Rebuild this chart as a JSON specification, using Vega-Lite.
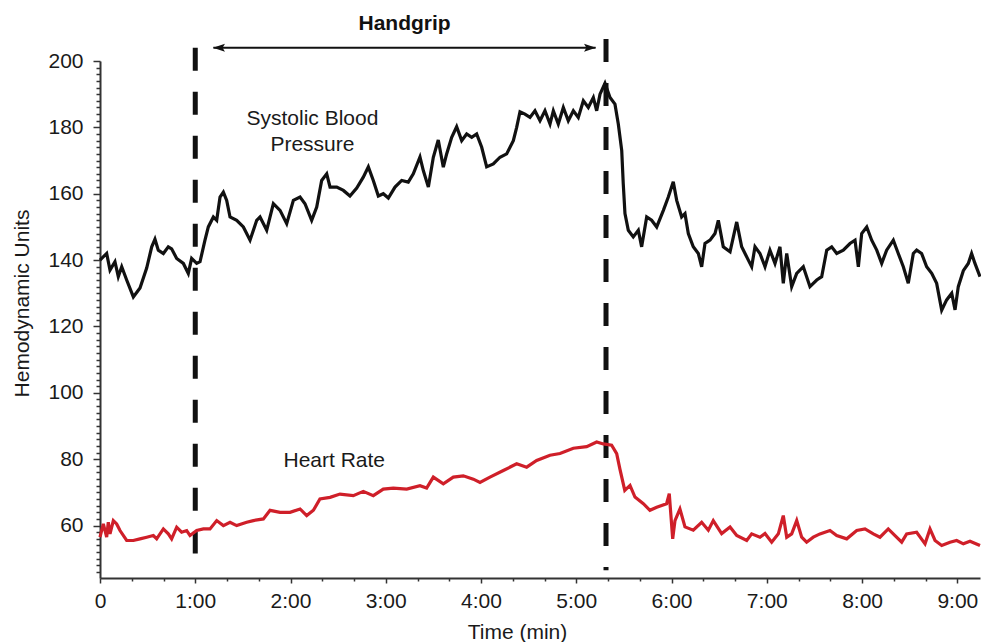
{
  "$schema": "https://vega.github.io/schema/vega-lite/v6.json",
  "width": 880,
  "height": 517,
  "autosize": {"type": "none"},
  "padding": {"left": 100, "top": 61, "right": 1, "bottom": 64},
  "background": "white",
  "config": {
    "view": {"stroke": null},
    "font": "Liberation Sans",
    "axis": {
      "grid": false,
      "domainColor": "#333333",
      "domainWidth": 2,
      "tickColor": "#333333",
      "tickWidth": 1.5,
      "labelFont": "Liberation Sans",
      "labelFontSize": 21,
      "labelColor": "#1a1a1a",
      "labelOverlap": false,
      "labelFlush": false,
      "titleFont": "Liberation Sans",
      "titleFontSize": 21,
      "titleFontWeight": "normal",
      "titleColor": "#1a1a1a"
    }
  },
  "datasets": {
    "sbp": [
      {"t": 0.000, "v": 140}, {"t": 0.070, "v": 142}, {"t": 0.105, "v": 137}, {"t": 0.157, "v": 139.5},
      {"t": 0.192, "v": 135}, {"t": 0.228, "v": 138}, {"t": 0.280, "v": 134}, {"t": 0.350, "v": 128.9},
      {"t": 0.420, "v": 131.6}, {"t": 0.490, "v": 137.6}, {"t": 0.543, "v": 144}, {"t": 0.577, "v": 146.3},
      {"t": 0.612, "v": 143}, {"t": 0.665, "v": 142}, {"t": 0.717, "v": 144}, {"t": 0.752, "v": 143.4},
      {"t": 0.805, "v": 140.5}, {"t": 0.875, "v": 139}, {"t": 0.927, "v": 136}, {"t": 0.962, "v": 140.5},
      {"t": 1.015, "v": 139}, {"t": 1.050, "v": 139.5}, {"t": 1.102, "v": 146}, {"t": 1.137, "v": 150},
      {"t": 1.190, "v": 153}, {"t": 1.225, "v": 152}, {"t": 1.260, "v": 159}, {"t": 1.295, "v": 160.5},
      {"t": 1.330, "v": 158}, {"t": 1.365, "v": 153}, {"t": 1.435, "v": 152}, {"t": 1.505, "v": 150},
      {"t": 1.575, "v": 146}, {"t": 1.645, "v": 152}, {"t": 1.680, "v": 153}, {"t": 1.750, "v": 149},
      {"t": 1.820, "v": 157}, {"t": 1.890, "v": 155}, {"t": 1.960, "v": 151}, {"t": 2.030, "v": 158},
      {"t": 2.100, "v": 159}, {"t": 2.152, "v": 157}, {"t": 2.222, "v": 152}, {"t": 2.275, "v": 156},
      {"t": 2.327, "v": 164}, {"t": 2.380, "v": 166}, {"t": 2.415, "v": 162}, {"t": 2.485, "v": 162},
      {"t": 2.555, "v": 161}, {"t": 2.624, "v": 159.3}, {"t": 2.695, "v": 161.7}, {"t": 2.764, "v": 165},
      {"t": 2.817, "v": 168.1}, {"t": 2.869, "v": 164}, {"t": 2.922, "v": 159.3}, {"t": 2.974, "v": 160},
      {"t": 3.027, "v": 158.7}, {"t": 3.097, "v": 162}, {"t": 3.167, "v": 164}, {"t": 3.236, "v": 163.5},
      {"t": 3.289, "v": 166}, {"t": 3.359, "v": 171.1}, {"t": 3.394, "v": 167}, {"t": 3.447, "v": 162},
      {"t": 3.499, "v": 171}, {"t": 3.551, "v": 176.2}, {"t": 3.604, "v": 168}, {"t": 3.639, "v": 172},
      {"t": 3.692, "v": 177}, {"t": 3.744, "v": 180.2}, {"t": 3.797, "v": 176}, {"t": 3.849, "v": 178},
      {"t": 3.902, "v": 177}, {"t": 3.954, "v": 178}, {"t": 4.007, "v": 174}, {"t": 4.059, "v": 168.1},
      {"t": 4.129, "v": 169}, {"t": 4.199, "v": 171}, {"t": 4.269, "v": 172}, {"t": 4.339, "v": 176},
      {"t": 4.374, "v": 180}, {"t": 4.409, "v": 184.7}, {"t": 4.461, "v": 184}, {"t": 4.514, "v": 183},
      {"t": 4.566, "v": 185}, {"t": 4.619, "v": 182}, {"t": 4.671, "v": 185}, {"t": 4.724, "v": 181},
      {"t": 4.759, "v": 185}, {"t": 4.811, "v": 181}, {"t": 4.864, "v": 186}, {"t": 4.916, "v": 182},
      {"t": 4.969, "v": 185}, {"t": 5.021, "v": 183}, {"t": 5.074, "v": 188}, {"t": 5.126, "v": 186},
      {"t": 5.179, "v": 189}, {"t": 5.214, "v": 185}, {"t": 5.249, "v": 190}, {"t": 5.301, "v": 193.3},
      {"t": 5.354, "v": 189}, {"t": 5.406, "v": 187}, {"t": 5.441, "v": 181}, {"t": 5.477, "v": 173},
      {"t": 5.493, "v": 163}, {"t": 5.511, "v": 154}, {"t": 5.546, "v": 149}, {"t": 5.598, "v": 147},
      {"t": 5.651, "v": 149}, {"t": 5.686, "v": 144}, {"t": 5.739, "v": 153}, {"t": 5.791, "v": 152},
      {"t": 5.844, "v": 150}, {"t": 5.914, "v": 155}, {"t": 5.966, "v": 159}, {"t": 6.018, "v": 163.6},
      {"t": 6.054, "v": 158}, {"t": 6.106, "v": 153}, {"t": 6.141, "v": 154}, {"t": 6.176, "v": 148},
      {"t": 6.228, "v": 144}, {"t": 6.281, "v": 142}, {"t": 6.316, "v": 138}, {"t": 6.351, "v": 145},
      {"t": 6.404, "v": 146}, {"t": 6.456, "v": 148}, {"t": 6.491, "v": 152}, {"t": 6.543, "v": 144},
      {"t": 6.614, "v": 142.5}, {"t": 6.684, "v": 151.5}, {"t": 6.736, "v": 144}, {"t": 6.806, "v": 140},
      {"t": 6.841, "v": 138}, {"t": 6.876, "v": 144}, {"t": 6.928, "v": 142}, {"t": 6.981, "v": 138},
      {"t": 7.033, "v": 143}, {"t": 7.086, "v": 139}, {"t": 7.138, "v": 144}, {"t": 7.173, "v": 133},
      {"t": 7.209, "v": 142}, {"t": 7.261, "v": 132}, {"t": 7.314, "v": 136}, {"t": 7.383, "v": 138},
      {"t": 7.453, "v": 132}, {"t": 7.524, "v": 134}, {"t": 7.576, "v": 135}, {"t": 7.629, "v": 143},
      {"t": 7.681, "v": 144}, {"t": 7.734, "v": 142}, {"t": 7.803, "v": 143}, {"t": 7.873, "v": 145},
      {"t": 7.926, "v": 146}, {"t": 7.961, "v": 138}, {"t": 7.996, "v": 148}, {"t": 8.049, "v": 150},
      {"t": 8.101, "v": 146}, {"t": 8.154, "v": 143}, {"t": 8.206, "v": 139}, {"t": 8.258, "v": 143},
      {"t": 8.328, "v": 146}, {"t": 8.380, "v": 142}, {"t": 8.433, "v": 138}, {"t": 8.485, "v": 133},
      {"t": 8.538, "v": 142}, {"t": 8.573, "v": 143}, {"t": 8.625, "v": 142}, {"t": 8.678, "v": 138},
      {"t": 8.731, "v": 136}, {"t": 8.783, "v": 133}, {"t": 8.836, "v": 124.9}, {"t": 8.888, "v": 128},
      {"t": 8.941, "v": 130}, {"t": 8.976, "v": 125}, {"t": 9.010, "v": 132}, {"t": 9.063, "v": 136.8},
      {"t": 9.115, "v": 139}, {"t": 9.150, "v": 142}, {"t": 9.185, "v": 139}, {"t": 9.238, "v": 135}
    ],
    "hr": [
      {"t": 0.000, "v": 56.5}, {"t": 0.035, "v": 60.5}, {"t": 0.070, "v": 56.5}, {"t": 0.087, "v": 61},
      {"t": 0.105, "v": 57.5}, {"t": 0.140, "v": 61.5}, {"t": 0.175, "v": 60.5}, {"t": 0.210, "v": 58.5},
      {"t": 0.280, "v": 55.5}, {"t": 0.350, "v": 55.5}, {"t": 0.420, "v": 56}, {"t": 0.490, "v": 56.5},
      {"t": 0.560, "v": 57}, {"t": 0.595, "v": 56}, {"t": 0.665, "v": 59}, {"t": 0.717, "v": 57.5},
      {"t": 0.752, "v": 56}, {"t": 0.805, "v": 59.5}, {"t": 0.857, "v": 58}, {"t": 0.910, "v": 58.5},
      {"t": 0.945, "v": 57}, {"t": 1.015, "v": 58.5}, {"t": 1.085, "v": 59}, {"t": 1.155, "v": 59},
      {"t": 1.225, "v": 61.5}, {"t": 1.295, "v": 60}, {"t": 1.365, "v": 61}, {"t": 1.435, "v": 60},
      {"t": 1.540, "v": 61}, {"t": 1.610, "v": 61.5}, {"t": 1.715, "v": 62}, {"t": 1.785, "v": 64.6},
      {"t": 1.890, "v": 64}, {"t": 1.995, "v": 64}, {"t": 2.100, "v": 65}, {"t": 2.170, "v": 63},
      {"t": 2.240, "v": 64.6}, {"t": 2.309, "v": 68}, {"t": 2.415, "v": 68.5}, {"t": 2.519, "v": 69.5},
      {"t": 2.659, "v": 69}, {"t": 2.764, "v": 70.3}, {"t": 2.869, "v": 69}, {"t": 2.974, "v": 71},
      {"t": 3.079, "v": 71.3}, {"t": 3.220, "v": 71}, {"t": 3.359, "v": 72}, {"t": 3.429, "v": 71.3},
      {"t": 3.499, "v": 74.6}, {"t": 3.604, "v": 72.6}, {"t": 3.709, "v": 74.6}, {"t": 3.814, "v": 75},
      {"t": 3.919, "v": 74}, {"t": 3.989, "v": 73}, {"t": 4.094, "v": 74.6}, {"t": 4.234, "v": 76.6},
      {"t": 4.374, "v": 78.6}, {"t": 4.479, "v": 77.6}, {"t": 4.584, "v": 79.6}, {"t": 4.724, "v": 81.2},
      {"t": 4.829, "v": 81.7}, {"t": 4.969, "v": 83.3}, {"t": 5.109, "v": 83.8}, {"t": 5.214, "v": 85.2},
      {"t": 5.284, "v": 84.6}, {"t": 5.371, "v": 84.2}, {"t": 5.424, "v": 81.7}, {"t": 5.458, "v": 77},
      {"t": 5.509, "v": 70.6}, {"t": 5.564, "v": 72.1}, {"t": 5.616, "v": 68.6}, {"t": 5.704, "v": 66.6},
      {"t": 5.773, "v": 64.6}, {"t": 5.844, "v": 65.5}, {"t": 5.948, "v": 66.6}, {"t": 5.976, "v": 69.6},
      {"t": 6.012, "v": 56}, {"t": 6.036, "v": 61.5}, {"t": 6.088, "v": 65}, {"t": 6.141, "v": 59.6},
      {"t": 6.228, "v": 58.6}, {"t": 6.316, "v": 61}, {"t": 6.386, "v": 58.6}, {"t": 6.438, "v": 61.5},
      {"t": 6.526, "v": 57.6}, {"t": 6.614, "v": 59.6}, {"t": 6.684, "v": 57}, {"t": 6.789, "v": 55.5},
      {"t": 6.841, "v": 57.5}, {"t": 6.928, "v": 56.5}, {"t": 6.981, "v": 57.6}, {"t": 7.051, "v": 55},
      {"t": 7.121, "v": 57.5}, {"t": 7.173, "v": 63}, {"t": 7.209, "v": 56.5}, {"t": 7.261, "v": 57.5},
      {"t": 7.314, "v": 61.5}, {"t": 7.366, "v": 56.5}, {"t": 7.418, "v": 55}, {"t": 7.488, "v": 56.5},
      {"t": 7.558, "v": 57.5}, {"t": 7.663, "v": 58.5}, {"t": 7.734, "v": 57}, {"t": 7.839, "v": 56},
      {"t": 7.944, "v": 58.5}, {"t": 8.031, "v": 59}, {"t": 8.118, "v": 57.5}, {"t": 8.188, "v": 56.5},
      {"t": 8.275, "v": 59}, {"t": 8.346, "v": 57}, {"t": 8.416, "v": 55}, {"t": 8.468, "v": 57.5},
      {"t": 8.573, "v": 58}, {"t": 8.661, "v": 54.5}, {"t": 8.713, "v": 59}, {"t": 8.766, "v": 55.5},
      {"t": 8.836, "v": 54}, {"t": 8.923, "v": 55}, {"t": 8.993, "v": 55.5}, {"t": 9.063, "v": 54.5},
      {"t": 9.133, "v": 55.3}, {"t": 9.238, "v": 54}
    ],
    "phases": [
      {"t": 1.0, "v": 204.0, "v2": 51.6},
      {"t": 5.312, "v": 206.6, "v2": 46.5}
    ],
    "span": [
      {"t": 1.19, "t2": 5.203, "v": 204.0}
    ],
    "heads": [
      {"t": 1.186, "v": 204.0, "dir": "left"},
      {"t": 5.207, "v": 204.0, "dir": "right"}
    ],
    "labels": [
      {"t": 2.23, "v": 180.7, "label": "Systolic Blood"},
      {"t": 2.23, "v": 172.85, "label": "Pressure"},
      {"t": 2.459, "v": 77.6, "label": "Heart Rate"}
    ],
    "heading": [
      {"t": 3.197, "v": 209.35, "label": "Handgrip"}
    ]
  },
  "encoding": {
    "x": {
      "field": "t",
      "type": "quantitative",
      "scale": {"domain": [0, 9.238], "nice": false, "zero": false},
      "axis": {
        "title": "Time (min)",
        "values": [0, 0.3333, 0.6667, 1, 1.3333, 1.6667, 2, 2.3333, 2.6667, 3, 3.3333, 3.6667, 4, 4.3333, 4.6667, 5, 5.3333, 5.6667, 6, 6.3333, 6.6667, 7, 7.3333, 7.6667, 8, 8.3333, 8.6667, 9],
        "labelExpr": "abs(datum.value - round(datum.value)) > 0.01 ? '' : (datum.value == 0 ? '0' : round(datum.value) + ':00')",
        "tickSize": {"condition": {"test": "abs(datum.value - round(datum.value)) > 0.01", "value": 3}, "value": 5},
        "labelBaseline": "alphabetic",
        "labelPadding": 24,
        "titleX": 417,
        "titleY": 60,
        "titleBaseline": "alphabetic",
        "titleAnchor": "middle"
      }
    },
    "y": {
      "field": "v",
      "type": "quantitative",
      "scale": {"domain": [44.2, 200], "nice": false, "zero": false},
      "axis": {
        "title": "Hemodynamic Units",
        "values": [46, 48, 50, 52, 54, 56, 58, 60, 62, 64, 66, 68, 70, 72, 74, 76, 78, 80, 82, 84, 86, 88, 90, 92, 94, 96, 98, 100, 102, 104, 106, 108, 110, 112, 114, 116, 118, 120, 122, 124, 126, 128, 130, 132, 134, 136, 138, 140, 142, 144, 146, 148, 150, 152, 154, 156, 158, 160, 162, 164, 166, 168, 170, 172, 174, 176, 178, 180, 182, 184, 186, 188, 190, 192, 194, 196, 198, 200],
        "labelExpr": "datum.value % 20 === 0 && datum.value >= 60 ? datum.value : ''",
        "tickSize": {"condition": {"test": "datum.value % 20 === 0", "value": 7}, "value": 4},
        "labelPadding": 10,
        "labelBaseline": "middle",
        "titleAngle": -90,
        "titleX": -72,
        "titleY": 242,
        "titleBaseline": "alphabetic",
        "titleAlign": "center"
      }
    }
  },
  "layer": [
    {
      "data": {"name": "phases"},
      "mark": {"type": "rule", "color": "#111111", "strokeWidth": 5, "strokeDash": [23, 21], "strokeCap": "butt"},
      "encoding": {"y2": {"field": "v2"}}
    },
    {
      "data": {"name": "span"},
      "mark": {"type": "rule", "color": "#111111", "strokeWidth": 2},
      "encoding": {"x2": {"field": "t2"}}
    },
    {
      "data": {"name": "heads"},
      "mark": {"type": "point", "filled": true, "color": "#111111", "opacity": 1, "size": 576},
      "encoding": {
        "shape": {
          "field": "dir",
          "type": "nominal",
          "scale": {"domain": ["left", "right"], "range": ["M0,0L1,-0.33L0.8,0L1,0.33Z", "M0,0L-1,-0.33L-0.8,0L-1,0.33Z"]},
          "legend": null
        }
      }
    },
    {
      "data": {"name": "sbp"},
      "mark": {"type": "line", "color": "#111111", "strokeWidth": 3.2, "strokeJoin": "miter"}
    },
    {
      "data": {"name": "hr"},
      "mark": {"type": "line", "color": "#cf1f29", "strokeWidth": 3.2}
    },
    {
      "data": {"name": "labels"},
      "mark": {"type": "text", "font": "Liberation Sans", "fontSize": 21, "color": "#1a1a1a", "align": "center", "baseline": "alphabetic"},
      "encoding": {"text": {"field": "label"}}
    },
    {
      "data": {"name": "heading"},
      "mark": {"type": "text", "font": "Liberation Sans", "fontSize": 21, "fontWeight": "bold", "color": "#111111", "align": "center", "baseline": "alphabetic"},
      "encoding": {"text": {"field": "label"}}
    }
  ]
}
